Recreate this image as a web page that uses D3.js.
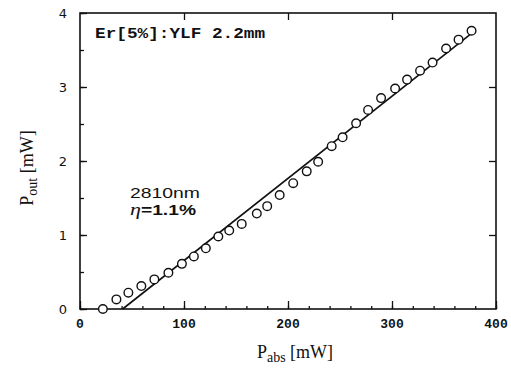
<!DOCTYPE html>
<html>
<head>
<meta charset="utf-8">
<script src="https://cdn.jsdelivr.net/npm/d3@7"></script>
<style>
  html, body { margin: 0; padding: 0; background: #fff; }
  svg { display: block; }
</style>
</head>
<body>
<svg id="chart" width="511" height="371"></svg>
<script>
// measured points (P_abs in mW, P_out in mW)
const pAbs = [22, 35, 46.5, 59, 71.5, 85, 98, 109.5, 121, 133, 143.5, 155.5,
  170, 180, 192, 205, 218, 229, 242, 252.5, 265.5, 277, 289.5, 303, 314.5,
  327, 339, 352, 364, 376.5];
const pOut = [0, 0.13, 0.22, 0.31, 0.40, 0.49, 0.61, 0.71, 0.82, 0.98, 1.06, 1.15,
  1.29, 1.39, 1.54, 1.70, 1.86, 1.99, 2.20, 2.32, 2.51, 2.69, 2.85, 2.98, 3.10,
  3.22, 3.33, 3.52, 3.64, 3.76];

// linear fit
const fitX = [41, 378];
const fitY = [0, 3.74];

const xTicks = [0, 100, 200, 300, 400];
const yTicks = [0, 1, 2, 3, 4];
const xMinor = d3.range(0, 401, 20);
const yMinor = d3.range(0, 4.01, 0.5);

const margin = { left: 80, right: 15, top: 13, bottom: 62 };
const W = 511, H = 371;

const svg = d3.select("#chart");

const x = d3.scaleLinear().domain([0, 400]).range([margin.left, W - margin.right]);
const y = d3.scaleLinear().domain([0, 4]).range([H - margin.bottom, margin.top]);

const x0 = x(0), x1 = x(400), y0 = y(0), y1 = y(4);

// inward ticks: bottom & left with minors, top & right major only
const axBottom = svg.append("g").attr("transform", `translate(0,${y0})`)
  .call(d3.axisTop(x).tickValues(xMinor).tickSize(3).tickFormat(""));
axBottom.select(".domain").remove();
const axBottomMaj = svg.append("g").attr("transform", `translate(0,${y0})`)
  .call(d3.axisTop(x).tickValues(xTicks).tickSize(8).tickFormat(""));
axBottomMaj.select(".domain").remove();

const axTop = svg.append("g").attr("transform", `translate(0,${y1})`)
  .call(d3.axisBottom(x).tickValues([100, 200, 300]).tickSize(7).tickFormat(""));
axTop.select(".domain").remove();

const axLeft = svg.append("g").attr("transform", `translate(${x0},0)`)
  .call(d3.axisRight(y).tickValues(yMinor).tickSize(4).tickFormat(""));
axLeft.select(".domain").remove();
const axLeftMaj = svg.append("g").attr("transform", `translate(${x0},0)`)
  .call(d3.axisRight(y).tickValues(yTicks).tickSize(7).tickFormat(""));
axLeftMaj.select(".domain").remove();

const axRight = svg.append("g").attr("transform", `translate(${x1},0)`)
  .call(d3.axisLeft(y).tickValues([1, 2, 3]).tickSize(7).tickFormat(""));
axRight.select(".domain").remove();

svg.selectAll(".tick line").attr("stroke", "#111").attr("stroke-width", 1.3);

// frame
svg.append("rect")
  .attr("x", x0).attr("y", y1)
  .attr("width", x1 - x0).attr("height", y0 - y1)
  .attr("fill", "none").attr("stroke", "#111").attr("stroke-width", 1.6);

// tick labels
svg.append("g").selectAll("text").data(xTicks).join("text")
  .attr("x", d => x(d)).attr("y", y0 + 19)
  .attr("text-anchor", "middle")
  .attr("font-family", "Liberation Mono, monospace")
  .attr("font-weight", "bold").attr("font-size", 13)
  .attr("fill", "#111")
  .text(d => d);

svg.append("g").selectAll("text").data(yTicks).join("text")
  .attr("x", x0 - 13).attr("y", d => y(d) + 5)
  .attr("text-anchor", "end")
  .attr("font-family", "DejaVu Sans, sans-serif")
  .attr("font-size", 13)
  .attr("fill", "#111")
  .text(d => d);

// fit line
const line = d3.line().x((d, i) => x(fitX[i])).y(d => y(d));
svg.append("path")
  .datum(fitY)
  .attr("d", line)
  .attr("fill", "none").attr("stroke", "#111").attr("stroke-width", 1.6);

// data markers
svg.append("g").selectAll("circle").data(pAbs).join("circle")
  .attr("cx", d => x(d)).attr("cy", (d, i) => y(pOut[i]))
  .attr("r", 4.3)
  .attr("fill", "#fff").attr("stroke", "#111").attr("stroke-width", 1.4);

// annotations
svg.append("text")
  .attr("x", 95).attr("y", 38)
  .attr("font-family", "Liberation Mono, monospace")
  .attr("font-weight", "bold").attr("font-size", 14)
  .attr("textLength", 170).attr("lengthAdjust", "spacingAndGlyphs")
  .attr("fill", "#111")
  .text("Er[5%]:YLF 2.2mm");

svg.append("text")
  .attr("x", 130).attr("y", 198)
  .attr("font-family", "Liberation Sans, Arial, sans-serif")
  .attr("font-size", 14)
  .attr("textLength", 70).attr("lengthAdjust", "spacingAndGlyphs")
  .attr("fill", "#111")
  .text("2810nm");

const eta = svg.append("text")
  .attr("x", 130).attr("y", 215)
  .attr("font-family", "Liberation Sans, Arial, sans-serif")
  .attr("font-size", 14).attr("font-weight", "bold")
  .attr("textLength", 66).attr("lengthAdjust", "spacingAndGlyphs")
  .attr("fill", "#111");
eta.append("tspan")
  .attr("font-family", "Liberation Serif, serif").attr("font-style", "italic")
  .attr("font-weight", "normal").attr("font-size", 16)
  .text("η");
eta.append("tspan").text("=1.1%");

// axis titles
const xt = svg.append("text")
  .attr("x", 295).attr("y", 358)
  .attr("text-anchor", "middle")
  .attr("font-family", "Liberation Serif, Times New Roman, serif")
  .attr("font-size", 18)
  .attr("fill", "#111");
xt.append("tspan").text("P");
xt.append("tspan").attr("font-size", 14).attr("dy", 4).text("abs");
xt.append("tspan").attr("dy", -4).text(" [mW]");

const yt = svg.append("text")
  .attr("transform", "translate(33,168) rotate(-90)")
  .attr("text-anchor", "middle")
  .attr("font-family", "Liberation Serif, Times New Roman, serif")
  .attr("font-size", 18)
  .attr("fill", "#111");
yt.append("tspan").text("P");
yt.append("tspan").attr("font-size", 14).attr("dy", 4).text("out");
yt.append("tspan").attr("dy", -4).text(" [mW]");
</script>
</body>
</html>
